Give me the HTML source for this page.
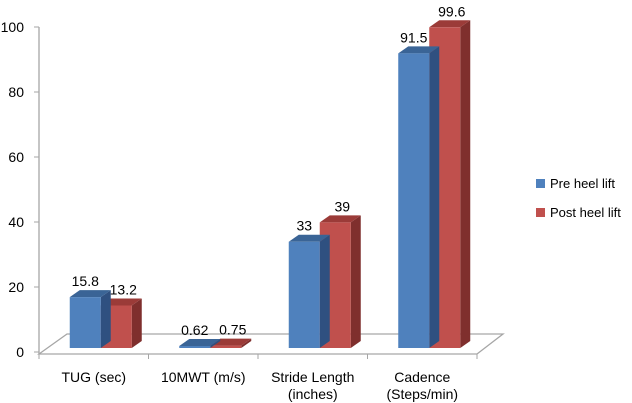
<!DOCTYPE html>
<html><head><meta charset="utf-8"><style>
body{margin:0;background:#fff;}
svg{display:block;font-family:"Liberation Sans",sans-serif;}
</style></head><body>
<svg id="chart" width="632" height="403" viewBox="0 0 632 403"></svg>
<script>
const categories=[["TUG (sec)"],["10MWT (m/s)"],["Stride Length","(inches)"],["Cadence","(Steps/min)"]];
const preValues=[15.8,0.62,33,91.5];
const postValues=[13.2,0.75,39,99.6];
const yTicks=[0,20,40,60,80,100];
const seriesNames=["Pre heel lift","Post heel lift"];

const svg=document.getElementById('chart');
const NS="http://www.w3.org/2000/svg";
function mk(t,a,p){const e=document.createElementNS(NS,t);for(const k in a)e.setAttribute(k,a[k]);(p||svg).appendChild(e);return e;}
const x0=39,x1=477,base=348,axisBase=352,scale=3.22;
const yAxis=v=>axisBase-v*3.25;
const yBar=v=>base-v*scale;
const band=(x1-x0)/categories.length;
const xCenter=i=>x0+(i+0.5)*band+7;
const dx=10,dy=-7,bw=31;

let f=mk('polygon',{points:`${x0},${354} ${x0+28},334 ${x1+26},334 ${x1},${354}`,fill:'none',stroke:'#a6a6a6','stroke-width':1.3});

let ax=mk('line',{x1:x0,y1:27,x2:x0,y2:354,stroke:'#a6a6a6','stroke-width':1.3});

yTicks.forEach(v=>{
  const y=yAxis(v);
  const l=mk('line',{x1:x0-5,y1:y,x2:x0,y2:y,stroke:'#a6a6a6'});
  
  const t=mk('text',{x:24,y:y+5,'text-anchor':'end','font-size':14,fill:'#000'});t.textContent=v;
  
});
for(let i=0;i<=categories.length;i++){
  const x=x0+i*band;
  const l=mk('line',{x1:x,y1:354,x2:x,y2:359,stroke:'#a6a6a6'});
  
}
function bar(x,v,cf,ct,cs,name,lo){
  const g=mk('g',{});
  
  const top=yBar(v);
  mk('polygon',{points:`${x+bw},${top} ${x+bw+dx},${top+dy} ${x+bw+dx},${base+dy} ${x+bw},${base}`,fill:cs},g);
  mk('polygon',{points:`${x},${top} ${x+dx},${top+dy} ${x+bw+dx},${top+dy} ${x+bw},${top}`,fill:ct},g);
  mk('rect',{x:x,y:top,width:bw,height:base-top,fill:cf},g);
  const t=mk('text',{x:x+bw/2+lo,y:top-11,'text-anchor':'middle','font-size':14,fill:'#000'});
  t.textContent=v;
}
categories.forEach((c,i)=>{
  const cx=xCenter(i);
  bar(cx,postValues[i],'#c0504d','#9b3b38','#7f2f2d','bar-post-'+i,7);
  bar(cx-bw,preValues[i],'#4f81bd','#3a6496','#2f5080','bar-pre-'+i,0);
  c.forEach((line,j)=>{
    const t=mk('text',{x:x0+(i+0.5)*band,y:382+j*17,'text-anchor':'middle','font-size':14,fill:'#000'});
    t.textContent=line;
  });
});
const cols=['#4f81bd','#c0504d'];
seriesNames.forEach((n,i)=>{
  const y=184+i*29;
  const g=mk('g',{});
  mk('rect',{x:536,y:y-5,width:9,height:9,fill:cols[i]},g);
  const t=mk('text',{x:550,y:y+4,'font-size':13,fill:'#000'},g);t.textContent=n;
});
</script>
</body></html>
